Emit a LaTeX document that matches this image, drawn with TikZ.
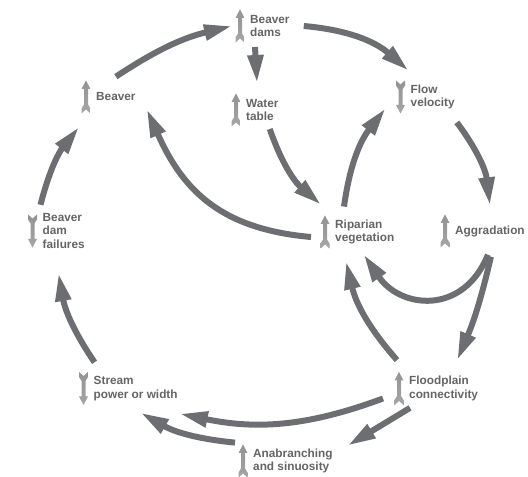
\documentclass[tikz,border=0pt]{standalone}
\usepackage{fontspec}
\setmainfont{Liberation Sans}
\usetikzlibrary{arrows.meta}
\definecolor{flowgray}{RGB}{109,110,113}
\definecolor{txtgray}{RGB}{100,100,102}
\newcommand{\cfont}{\fontsize{11.8}{13.4}\selectfont\bfseries}

\begin{document}
\begin{tikzpicture}[x=1pt,y=1pt,
   concept/.style={anchor=west,align=left,inner sep=0pt,text=txtgray,font=\cfont},
   flow/.style={draw=flowgray,line width=6pt,-{Triangle[length=28pt,width=15pt]}},
   pics/indup/.style={code={
      \shade[top color=gray!85,middle color=gray!40,bottom color=gray!70]
         (0,16.5) -- (4.5,8) -- (2,8) -- (2,-7.5) -- (4.5,-11.5) -- (4.5,-16.5) -- (0,-12.5)
         -- (-4.5,-16.5) -- (-4.5,-11.5) -- (-2,-7.5) -- (-2,8) -- (-4.5,8) -- cycle;}},
   pics/inddown/.style={code={\pic[rotate=180]{indup};}}]
   \useasboundingbox (0,0) rectangle (528,477);

   \node[concept] (bd) at (250,451)   {Beaver\\dams};
   \node[concept] (bv) at (96,380)    {Beaver};
   \node[concept] (wt) at (246,367)   {Water\\table};
   \node[concept] (fv) at (410.5,380) {Flow\\velocity};
   \node[concept] (rv) at (335,245)   {Riparian\\vegetation};
   \node[concept] (ag) at (455,246)   {Aggradation};
   \node[concept] (bf) at (42.5,246)  {Beaver\\dam\\failures};
   \node[concept] (sp) at (93.5,88.5) {Stream\\power or width};
   \node[concept] (fc) at (409,88.5)  {Floodplain\\connectivity};
   \node[concept] (an) at (253,16)    {Anabranching\\and sinuosity};

   \pic at ([xshift=-10]bd.west) {indup};
   \pic at ([xshift=-10]bv.west) {indup};
   \pic at ([xshift=-10]wt.west) {indup};
   \pic at ([xshift=-10]fv.west) {inddown};
   \pic at ([xshift=-10]rv.west) {indup};
   \pic at ([xshift=-10]ag.west) {indup};
   \pic at ([xshift=-10]bf.west) {inddown};
   \pic at ([xshift=-10]sp.west) {inddown};
   \pic at ([xshift=-10]fc.west) {indup};
   \pic at ([xshift=-10]an.west) {indup};

   \draw[flow] ([yshift=16]bv.north) to[bend left=10] ([xshift=-18]bd.west);
   \draw[flow] ([xshift=14]bd.east) to[bend left=18] ([shift={(-2,14)}]fv.north west);
   \draw[flow] ([shift={(5,-10)}]bd.south west) -- ([shift={(11,16)}]wt.north west);
   \draw[flow] ([shift={(-9,-8)}]wt.south east) to[bend right=15] ([shift={(-14,15)}]rv.north west);
   \draw[flow] ([shift={(9,13)}]rv.north west) to[bend left=15] ([shift={(-25,1)}]fv.south west);
   \draw[flow] ([shift={(-24,-5)}]rv.west) to[out=175,in=-66,looseness=1.1] ([shift={(11,-8)}]bv.south east);
   \draw[flow] ([shift={(2,-13)}]fv.south east) to[bend left=15] ([yshift=20]ag.north);
   \draw[flow] ([shift={(-2,-18)}]ag.south) to[out=-112,in=-56,looseness=1.35] ([shift={(-1,-10)}]rv.south);
   \draw[flow] ([shift={(1,-20)}]ag.south) to[bend left=5] ([shift={(-21,16)}]fc.north east);
   \draw[flow] ([shift={(-12,16)}]fc.north west) to[bend left=14] ([shift={(11,-17)}]rv.south west);
   \draw[flow] ([shift={(-26,-10)}]fc.west) to[bend left=16] ([shift={(2,-13)}]sp.south east);
   \draw[flow] ([shift={(1,-7)}]fc.south west) -- ([shift={(15,3)}]an.north east);
   \draw[flow] ([shift={(-18,6)}]an.north west) to[bend left=12] ([shift={(5,-12)}]sp.south);
   \draw[flow] ([shift={(1,14)}]sp.north west) to[bend left=12] ([shift={(16,-24.5)}]bf.south west);
   \draw[flow] ([shift={(-2,8.5)}]bf.north west) to[bend left=12] ([shift={(-17,-30)}]bv.west);
\end{tikzpicture}
\end{document}
